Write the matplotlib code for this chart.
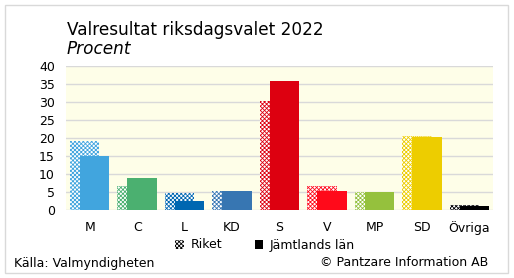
import matplotlib

matplotlib.use("Agg")

import matplotlib.pyplot as plt
import numpy as np
from matplotlib.patches import Patch, Rectangle

parties = ["M", "C", "L", "KD", "S", "V", "MP", "SD", "Övriga"]
riket = [19.1, 6.7, 4.6, 5.3, 30.3, 6.8, 5.1, 20.5, 1.5]
jamtland = [14.9, 9.0, 2.6, 5.4, 35.9, 5.4, 4.9, 20.2, 1.2]
colors = ["#41A5DE", "#4BB070", "#0067B1", "#3776B2", "#DD0010",
          "#FF0A1A", "#95C13D", "#EDCD00", "#000000"]

plt.rcParams["font.family"] = "DejaVu Sans"
plt.rcParams["hatch.linewidth"] = 0.6

fig = plt.figure(figsize=(5.14, 2.78), dpi=100)

# light grey frame around the whole figure
fig.patches.append(Rectangle((5 / 514, 5 / 278), 503 / 514, 268 / 278,
                             transform=fig.transFigure, fill=False,
                             edgecolor="#D9D9D9", linewidth=1))

ax = fig.add_axes([66 / 514, 68 / 278, 427 / 514, 144 / 278])
ax.set_facecolor("#FEFEE8")

x = np.arange(len(parties))
w = 0.62
off = 0.105
for i, p in enumerate(parties):
    # riket drawn as a fine checker pattern behind the county bar
    ax.bar(x[i] - off, riket[i], width=w, color="white", edgecolor=colors[i],
           hatch="xxxxxxxx", linewidth=0, zorder=2)
    ax.bar(x[i] + off, jamtland[i], width=w, color=colors[i], linewidth=0, zorder=3)

ax.set_xlim(-0.5, len(parties) - 0.5)
ax.set_ylim(0, 40)
ax.set_yticks(range(0, 41, 5))
ax.yaxis.grid(True, color="#D9D9D9", linewidth=1)
ax.set_axisbelow(True)
ax.set_xticks(x, parties)
ax.tick_params(length=0, labelsize=9)
ax.tick_params(axis="x", pad=8)
ax.tick_params(axis="y", pad=8)
for s in ax.spines.values():
    s.set_visible(False)

fig.text(67 / 514, 1 - 30 / 278, "Valresultat riksdagsvalet 2022", fontsize=12.2,
         va="center", ha="left")
fig.text(67 / 514, 1 - 49 / 278, "Procent", fontsize=12.2, style="italic",
         va="center", ha="left")

handles = [Patch(facecolor="white", edgecolor="black", hatch="xxxxxxxx", linewidth=0),
           Patch(facecolor="black", linewidth=0)]
fig.legend(handles, ["Riket", "Jämtlands län"], loc="center",
           bbox_to_anchor=(265 / 514, 1 - 245 / 278), ncol=2, frameon=False,
           fontsize=9, handlelength=0.7, handleheight=0.7, handletextpad=0.5,
           columnspacing=2.6)

fig.text(14 / 514, 1 - 263 / 278, "Källa: Valmyndigheten", fontsize=9,
         va="center", ha="left")
fig.text(488 / 514, 1 - 263 / 278, "© Pantzare Information AB", fontsize=9,
         va="center", ha="right")

fig.savefig("out.png", dpi=100)
